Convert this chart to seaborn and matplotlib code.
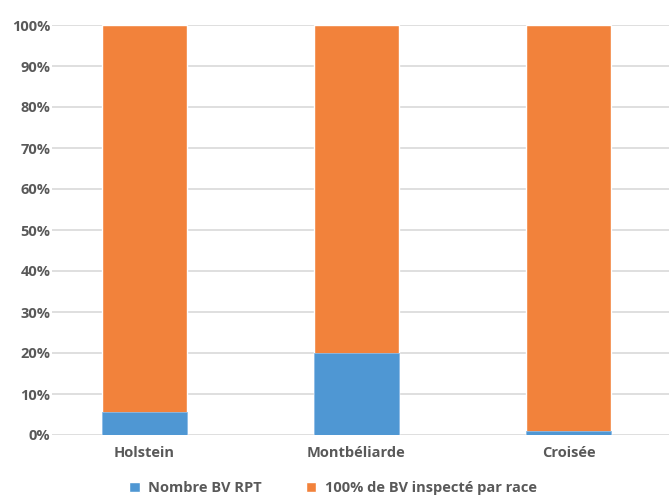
import matplotlib
matplotlib.use("Agg")
import matplotlib.pyplot as plt
import seaborn as sns
import pandas as pd
from matplotlib.ticker import MultipleLocator, FuncFormatter
from matplotlib.patches import Patch

races = ["Holstein", "Montbéliarde", "Croisée"]
rpt = [5.6, 20.0, 0.9]          # Nombre BV RPT (%)
inspecte = [94.4, 80.0, 99.1]   # reste des BV inspectés (%)

BLUE = "#4f97d3"
ORANGE = "#f2823b"
GREY = "#595959"

sns.set_theme(style="white")
plt.rcParams["font.family"] = ["Open Sans", "DejaVu Sans"]

df = pd.DataFrame({"race": races, "rpt": rpt, "inspecte": inspecte})
df["total"] = df["rpt"] + df["inspecte"]

fig = plt.figure(figsize=(6.69, 4.97), dpi=100)
ax = fig.add_axes([52 / 669, 1 - 435 / 497, 617 / 669, 410 / 497])

sns.barplot(data=df, x="race", y="total", color=ORANGE, width=0.4,
            saturation=1, ax=ax, zorder=2)
sns.barplot(data=df, x="race", y="rpt", color=BLUE, width=0.4,
            saturation=1, ax=ax, zorder=3, edgecolor="#8cbbe6", linewidth=0.6)

ax.set_xlim(-0.436, 2.474)
ax.set_ylim(0, 100)
ax.yaxis.set_major_locator(MultipleLocator(10))
ax.yaxis.set_major_formatter(FuncFormatter(lambda v, p: f"{v:.0f}%"))
ax.grid(axis="y", color="#d9d9d9", linewidth=1.2, zorder=0)
ax.set_axisbelow(True)
for s in ax.spines.values():
    s.set_visible(False)
ax.set_xlabel("")
ax.set_ylabel("")
ax.tick_params(axis="y", length=0, pad=1, labelsize=10.5, labelcolor=GREY)
ax.tick_params(axis="x", length=0, pad=8, labelsize=10.5, labelcolor=GREY)
for lab in ax.get_xticklabels() + ax.get_yticklabels():
    lab.set_fontweight("bold")

handles = [Patch(facecolor=BLUE, label="Nombre BV RPT"),
           Patch(facecolor=ORANGE, label="100% de BV inspecté par race")]
leg = fig.legend(handles=handles, loc="center", bbox_to_anchor=(333 / 669, 1 - 488 / 497),
                 ncol=2, frameon=False, handlelength=0.7, handleheight=0.7,
                 columnspacing=3.0, handletextpad=0.6,
                 prop={"size": 10.5, "weight": "bold"})
for t in leg.get_texts():
    t.set_color(GREY)

fig.savefig("out.png", dpi=100)
